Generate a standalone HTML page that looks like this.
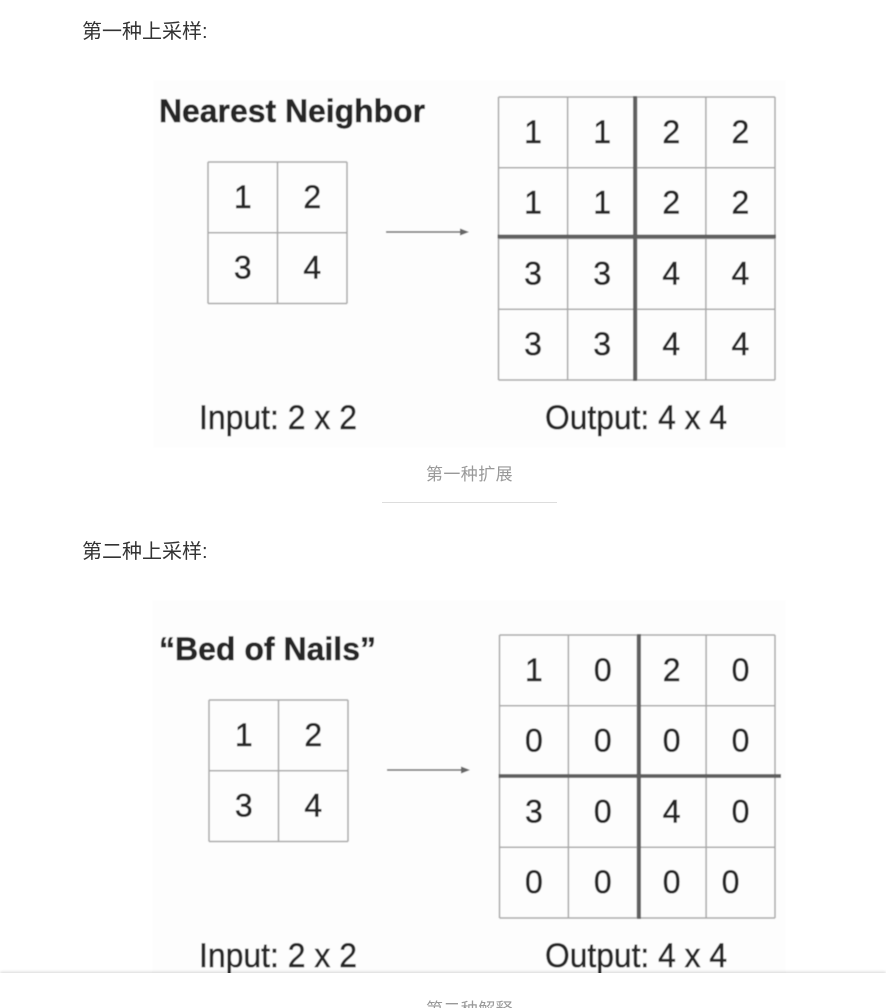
<!DOCTYPE html>
<html>
<head>
<meta charset="utf-8">
<style>
html,body{margin:0;padding:0;background:#fff;width:886px;height:1008px;overflow:hidden}
#page{position:relative;width:886px;height:1008px;overflow:hidden;background:#fff;font-family:"Liberation Sans","Noto Sans CJK SC",sans-serif}
.p{position:absolute;left:82px;font-size:20px;letter-spacing:0;line-height:24px;color:#333;white-space:nowrap}
.cap{position:absolute;left:0;width:939px;text-align:center;font-size:17px;letter-spacing:.4px;line-height:22px;color:#999;white-space:nowrap}
#bar{position:absolute;left:0;top:973px;width:886px;height:35px;background:#fff;box-shadow:0 -1px 3px rgba(0,0,0,.16)}
svg{position:absolute;left:0;top:0}
text{font-family:"Liberation Sans",sans-serif}
</style>
</head>
<body>
<div id="page">
<div class="p" style="top:20px">第一种上采样:</div>
<div class="p" style="top:540px">第二种上采样:</div>
<svg id="fig" width="886" height="1008" viewBox="0 0 886 1008"></svg>
<div class="cap" style="top:464px">第一种扩展</div>
<div style="position:absolute;left:382px;top:502px;width:175px;height:1px;background:#ddd"></div>
<div id="bar"></div>
<div class="cap" style="top:999px">第二种解释</div>
</div>
<script>
const nearestInput = [[1,2],[3,4]];
const nearestOutput = [[1,1,2,2],[1,1,2,2],[3,3,4,4],[3,3,4,4]];
const bedInput = [[1,2],[3,4]];
const bedOutput = [[1,0,2,0],[0,0,0,0],[3,0,4,0],[0,0,0,0]];
const titles = ["Nearest Neighbor", "\u201CBed of Nails\u201D"];
const inputLabel = "Input: 2 x 2";
const outputLabel = "Output: 4 x 4";

const svg = document.getElementById('fig');
const NS = 'http://www.w3.org/2000/svg';
function mk(tag, attrs, parent) {
  const el = document.createElementNS(NS, tag);
  for (const k in attrs) el.setAttribute(k, attrs[k]);
  (parent || svg).appendChild(el);
  return el;
}
function label(group, str, x, y, size, weight, len, anchor) {
  const t = mk('text', {x: x, y: y, 'font-size': size, 'font-weight': weight, fill: '#262626', stroke: '#262626', 'stroke-width': weight > 400 ? 0.5 : 0.55, 'text-anchor': anchor}, group);
  if (len) {
    t.setAttribute('textLength', len);
    t.setAttribute('lengthAdjust', 'spacingAndGlyphs');
  }
  t.textContent = str;
  
  
  return t;
}
function drawGrid(group, data, x0, y0, w, h, name, thick) {
  const n = data.length;
  const sx = v => x0 + v * w / n;
  const sy = v => y0 + v * h / n;
  const g = mk('g', {}, group);
  
  
  for (let i = 0; i <= n; i++) {
    mk('line', {x1: sx(i), x2: sx(i), y1: y0, y2: y0 + h, stroke: '#a8a8a8', 'stroke-width': 1.5}, g);
    mk('line', {x1: x0, x2: x0 + w, y1: sy(i), y2: sy(i), stroke: '#a8a8a8', 'stroke-width': 1.5}, g);
  }
  data.forEach((row, r) => row.forEach((v, c) => {
    const shift = (thick && thick.offLast && r === n - 1 && c === n - 1) ? -10 : 0;
    label(g, String(v), sx(c + 0.5) + shift, sy(r + 0.5) + 10.5, 32, 400, 0, 'middle');
  }));
  if (thick) {
    mk('line', {x1: thick.vx, x2: thick.vx, y1: y0 - 1, y2: y0 + h + 1, stroke: '#5e5e5e', 'stroke-width': 3.8}, g);
    mk('line', {x1: x0 - 1, x2: thick.hx2, y1: thick.hy, y2: thick.hy, stroke: '#5e5e5e', 'stroke-width': 3.8}, g);
  }
}
function drawFigure(cfg) {
  const g = mk('g', {filter: 'url(#soft)'});
  
  
  mk('rect', {x: cfg.bx, y: cfg.by, width: cfg.bw, height: cfg.bh, fill: '#fdfdfd'}, g);
  label(g, cfg.title, 159, cfg.titleY, 32, 700, cfg.titleLen, 'start');
  drawGrid(g, cfg.input, cfg.ix, cfg.iy, 139, 141.5, 'input-grid');
  drawGrid(g, cfg.output, cfg.ox, cfg.oy, cfg.ow, 283, 'output-grid', cfg.thick);
  const ay = cfg.arrowY, ax = cfg.ix + 178;
  mk('line', {x1: ax, x2: ax + 76, y1: ay, y2: ay, stroke: '#666', 'stroke-width': 1.5}, g);
  mk('path', {d: `M${ax+83} ${ay}l-9 -3.5v7z`, fill: '#666'}, g);
  label(g, inputLabel, 199, cfg.labelY, 34, 400, 158, 'start');
  label(g, outputLabel, 545, cfg.labelY, 34, 400, 182, 'start');
}
const defs = mk('defs', {});
const f = mk('filter', {id: 'soft', x: '0', y: '0', width: '100%', height: '100%'}, defs);
mk('feGaussianBlur', {stdDeviation: '0.65'}, f);

drawFigure({name: 'nearest-neighbor-figure', bx: 153, by: 80, bw: 633, bh: 368, title: titles[0], titleY: 122, titleLen: 266,
  input: nearestInput, ix: 208, iy: 162, output: nearestOutput, ox: 498.5, oy: 97, ow: 276.5,
  thick: {vx: 635, hy: 236.5, hx2: 776}, arrowY: 232, labelY: 429});
drawFigure({name: 'bed-of-nails-figure', bx: 152, by: 600, bw: 634, bh: 385, title: titles[1], titleY: 660, titleLen: 217,
  input: bedInput, ix: 209, iy: 700, output: bedOutput, ox: 499.5, oy: 635, ow: 275.5,
  thick: {vx: 639, hy: 776, hx2: 781, offLast: true}, arrowY: 770, labelY: 967});
</script>
</body>
</html>
